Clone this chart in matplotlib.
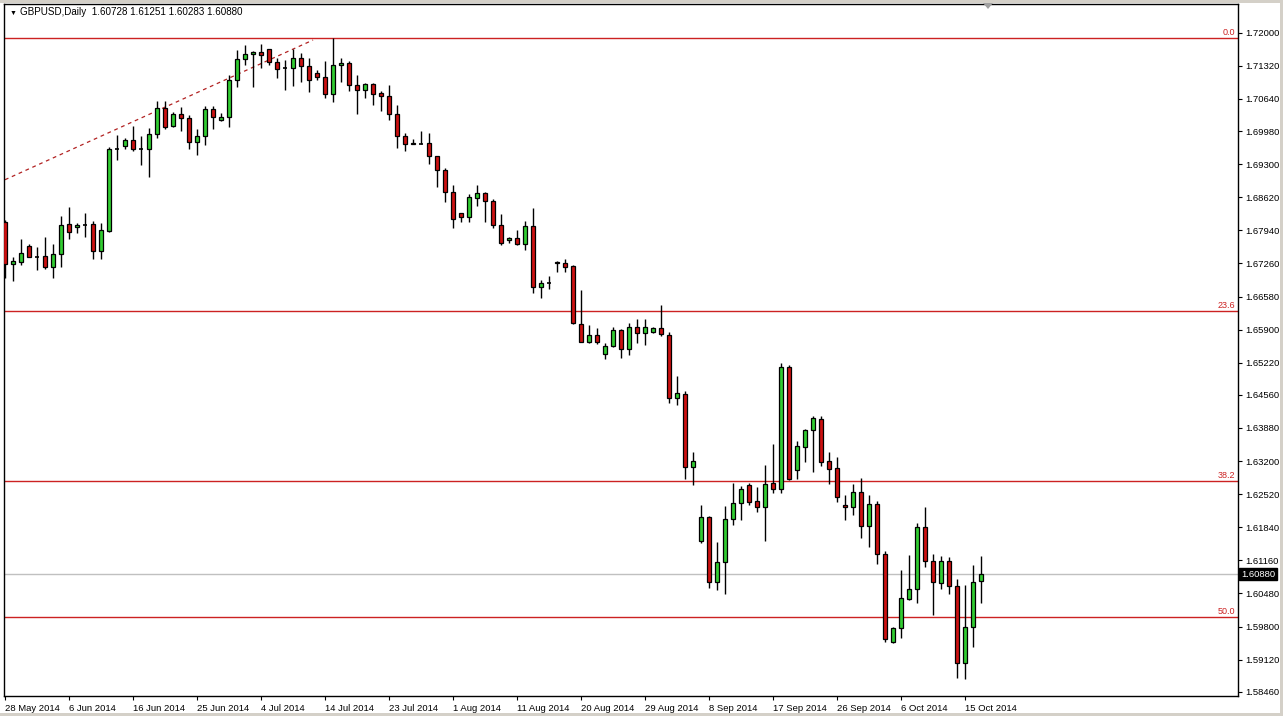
import matplotlib
matplotlib.use("Agg")
import matplotlib.pyplot as plt
from matplotlib.transforms import blended_transform_factory
from matplotlib.patches import Rectangle, Polygon
import numpy as np

symbol = "GBPUSD,Daily"

# daily OHLC, 28 May 2014 .. 17 Oct 2014 (incl. short Sunday bars)
opens = [1.6812, 1.6724, 1.6730, 1.6762, 1.6740, 1.6741, 1.6719, 1.6745, 1.6807, 1.6800,
         1.6806, 1.6807, 1.6752, 1.6793, 1.6961, 1.6968, 1.6980, 1.6961, 1.6961, 1.6991,
         1.7045, 1.7009, 1.7032, 1.7024, 1.6975, 1.6987, 1.7043, 1.7021, 1.7026, 1.7102,
         1.7146, 1.7156, 1.7160, 1.7166, 1.7139, 1.7127, 1.7128, 1.7149, 1.7131, 1.7117,
         1.7110, 1.7075, 1.7133, 1.7138, 1.7092, 1.7083, 1.7095, 1.7076, 1.7071, 1.7032,
         1.6988, 1.6973, 1.6972, 1.6973, 1.6947, 1.6919, 1.6872, 1.6829, 1.6822, 1.6860,
         1.6871, 1.6854, 1.6804, 1.6774, 1.6778, 1.6765, 1.6802, 1.6677, 1.6685, 1.6730,
         1.6726, 1.6721, 1.6601, 1.6565, 1.6579, 1.6541, 1.6557, 1.6589, 1.6550, 1.6596,
         1.6583, 1.6586, 1.6593, 1.6579, 1.6450, 1.6457, 1.6307, 1.6155, 1.6205, 1.6072,
         1.6113, 1.6201, 1.6233, 1.6271, 1.6238, 1.6226, 1.6274, 1.6262, 1.6514, 1.6302,
         1.6348, 1.6384, 1.6406, 1.6320, 1.6305, 1.6230, 1.6225, 1.6256, 1.6187, 1.6231,
         1.6129, 1.5949, 1.5977, 1.6037, 1.6058, 1.6184, 1.6115, 1.6069, 1.6115, 1.6064,
         1.5905, 1.5979, 1.60728]
highs = [1.6815, 1.6739, 1.6776, 1.6766, 1.6760, 1.6781, 1.6766, 1.6824, 1.6841, 1.6810,
         1.6830, 1.6814, 1.6810, 1.6966, 1.6990, 1.6984, 1.7008, 1.6988, 1.7004, 1.7060,
         1.7060, 1.7038, 1.7047, 1.7030, 1.7002, 1.7049, 1.7049, 1.7036, 1.7113, 1.7164,
         1.7174, 1.7163, 1.7177, 1.7167, 1.7149, 1.7143, 1.7167, 1.7158, 1.7148, 1.7123,
         1.7141, 1.7190, 1.7149, 1.7141, 1.7114, 1.7097, 1.7097, 1.7081, 1.7092, 1.7052,
         1.6995, 1.6982, 1.6998, 1.6993, 1.6947, 1.6923, 1.6887, 1.6830, 1.6869, 1.6887,
         1.6872, 1.6858, 1.6827, 1.6781, 1.6795, 1.6813, 1.6839, 1.6693, 1.6700, 1.6731,
         1.6735, 1.6723, 1.6672, 1.6600, 1.6594, 1.6563, 1.6595, 1.6591, 1.6604, 1.6612,
         1.6612, 1.6596, 1.6641, 1.6586, 1.6495, 1.6464, 1.6338, 1.6230, 1.6208, 1.6153,
         1.6228, 1.6276, 1.6269, 1.6276, 1.6267, 1.6311, 1.6355, 1.6521, 1.6517, 1.6361,
         1.6386, 1.6413, 1.6413, 1.6338, 1.6328, 1.6250, 1.6272, 1.6285, 1.6250, 1.6239,
         1.6135, 1.5980, 1.6096, 1.6127, 1.6192, 1.6225, 1.6129, 1.6124, 1.6122, 1.6078,
         1.6066, 1.6107, 1.61251]
lows = [1.6696, 1.6689, 1.6723, 1.6740, 1.6713, 1.6715, 1.6696, 1.6719, 1.6776, 1.6788,
        1.6781, 1.6735, 1.6735, 1.6791, 1.6939, 1.6961, 1.6956, 1.6928, 1.6904, 1.6983,
        1.7002, 1.7006, 1.6998, 1.6961, 1.6949, 1.6969, 1.7003, 1.7018, 1.7006, 1.7088,
        1.7134, 1.7088, 1.7127, 1.7133, 1.7106, 1.7083, 1.7090, 1.7099, 1.7078, 1.7102,
        1.7066, 1.7057, 1.7099, 1.7081, 1.7034, 1.7066, 1.7052, 1.7039, 1.7021, 1.6964,
        1.6958, 1.6971, 1.6971, 1.6930, 1.6884, 1.6853, 1.6798, 1.6811, 1.6811, 1.6843,
        1.6812, 1.6798, 1.6763, 1.6767, 1.6763, 1.6754, 1.6666, 1.6654, 1.6673, 1.6709,
        1.6709, 1.6601, 1.6564, 1.6562, 1.6561, 1.6530, 1.6555, 1.6532, 1.6538, 1.6563,
        1.6559, 1.6583, 1.6576, 1.6440, 1.6435, 1.6283, 1.6271, 1.6152, 1.6060, 1.6055,
        1.6047, 1.6189, 1.6199, 1.6230, 1.6216, 1.6155, 1.6254, 1.6254, 1.6281, 1.6283,
        1.6319, 1.6298, 1.6310, 1.6273, 1.6235, 1.6198, 1.6209, 1.6163, 1.6144, 1.6109,
        1.5949, 1.5947, 1.5956, 1.6035, 1.6029, 1.6102, 1.6004, 1.6057, 1.6047, 1.5874,
        1.5872, 1.5938, 1.60283]
closes = [1.6724, 1.6731, 1.6747, 1.6740, 1.6740, 1.6719, 1.6745, 1.6806, 1.6790, 1.6806,
          1.6806, 1.6752, 1.6795, 1.6961, 1.6961, 1.6980, 1.6961, 1.6961, 1.6991, 1.7045,
          1.7006, 1.7032, 1.7024, 1.6975, 1.6987, 1.7043, 1.7026, 1.7027, 1.7102, 1.7147,
          1.7156, 1.7160, 1.7155, 1.7139, 1.7126, 1.7127, 1.7149, 1.7131, 1.7102, 1.7110,
          1.7075, 1.7133, 1.7138, 1.7092, 1.7082, 1.7095, 1.7075, 1.7071, 1.7032, 1.6987,
          1.6971, 1.6971, 1.6972, 1.6947, 1.6919, 1.6872, 1.6817, 1.6822, 1.6862, 1.6871,
          1.6854, 1.6804, 1.6767, 1.6779, 1.6765, 1.6802, 1.6677, 1.6685, 1.6685, 1.6726,
          1.6719, 1.6603, 1.6565, 1.6579, 1.6565, 1.6557, 1.6589, 1.6550, 1.6595, 1.6583,
          1.6595, 1.6593, 1.6581, 1.6450, 1.6459, 1.6307, 1.6320, 1.6205, 1.6072, 1.6113,
          1.6201, 1.6233, 1.6262, 1.6235, 1.6226, 1.6272, 1.6263, 1.6514, 1.6283, 1.6350,
          1.6384, 1.6408, 1.6319, 1.6303, 1.6246, 1.6225, 1.6256, 1.6187, 1.6231, 1.6129,
          1.5954, 1.5977, 1.6038, 1.6057, 1.6184, 1.6115, 1.6071, 1.6115, 1.6064, 1.5905,
          1.5980, 1.6071, 1.60880]

date_labels = ["28 May 2014", "6 Jun 2014", "16 Jun 2014", "25 Jun 2014", "4 Jul 2014",
               "14 Jul 2014", "23 Jul 2014", "1 Aug 2014", "11 Aug 2014", "20 Aug 2014",
               "29 Aug 2014", "8 Sep 2014", "17 Sep 2014", "26 Sep 2014", "6 Oct 2014",
               "15 Oct 2014"]
date_label_bars = [0, 8, 16, 24, 32, 40, 48, 56, 64, 72, 80, 88, 96, 104, 112, 120]

price_ticks = [1.72000, 1.71320, 1.70640, 1.69980, 1.69300, 1.68620, 1.67940, 1.67260,
               1.66580, 1.65900, 1.65220, 1.64560, 1.63880, 1.63200, 1.62520, 1.61840,
               1.61160, 1.60480, 1.59800, 1.59120, 1.58460]

# fibonacci retracement drawn on the chart
fib_high = 1.7190
fib_low = 1.4808
fib_levels = [0.0, 23.6, 38.2, 50.0]

# dashed trend line (bar index, price)
trend_x = [0, 38.5]
trend_y = [1.6898, 1.7185]

plt.rcParams["font.family"] = ["Liberation Sans", "DejaVu Sans"]

o = np.array(opens); h = np.array(highs); l = np.array(lows); c = np.array(closes)
x = np.arange(len(o))

W, H = 1283, 716
fig = plt.figure(figsize=(W / 100, H / 100), dpi=100, facecolor="white")
ax = fig.add_axes([4 / W, 20 / H, (1238 - 4) / W, (696 - 4) / H])
ax.set_facecolor("white")

fs = 6.8
bull = "#32CD32"
bear = "#CC1111"

# wicks
ax.vlines(x, l, h, color="black", lw=1, zorder=3)
# bodies
up = c > o
dn = c < o
eq = c == o
body_w = 0.56
ax.bar(x[up], (c - o)[up], bottom=o[up], width=body_w, color=bull,
       edgecolor="black", lw=0.9, zorder=4)
ax.bar(x[dn], (o - c)[dn], bottom=c[dn], width=body_w, color=bear,
       edgecolor="black", lw=0.9, zorder=4)
ax.hlines(c[eq], x[eq] - body_w / 2, x[eq] + body_w / 2, color="black", lw=1.2, zorder=4)

# fibo lines
fib_color = "#CC2222"
trans = blended_transform_factory(ax.transAxes, ax.transData)
for lv in fib_levels:
    p = fib_high - lv / 100 * (fib_high - fib_low)
    ax.axhline(p, color=fib_color, lw=1, zorder=2)
    ax.text(0.998, p + 0.0002, f"{lv:.1f}", transform=trans, ha="right", va="bottom",
            fontsize=fs - 0.3, color=fib_color)

# trend line
ax.plot(trend_x, trend_y, color="#B22222", lw=0.9, ls=(0, (3, 3)), zorder=2)

# current price line
ax.axhline(c[-1], color="#C0C0C0", lw=1, zorder=1)
ax.text(1.0025, c[-1], f"{c[-1]:.5f}", transform=trans, ha="left", va="center",
        fontsize=fs, color="white", clip_on=False,
        bbox=dict(boxstyle="square,pad=0.2", fc="black", ec="black"))

ax.set_xlim(-0.125, 154.1)
ax.set_ylim(1.58374, 1.72590)

ax.yaxis.tick_right()
ax.set_yticks(price_ticks)
ax.set_yticklabels([f"{t:.5f}" for t in price_ticks])
ax.set_xticks(date_label_bars)
ax.set_xticklabels(date_labels)
for lbl in ax.get_xticklabels():
    lbl.set_horizontalalignment("left")
ax.tick_params(axis="both", direction="out", length=3, width=0.8, labelsize=fs,
               colors="black", pad=2.5)
for s in ax.spines.values():
    s.set_color("black")
    s.set_linewidth(1)

# header
ax.text(0.0045, 0.9915, "\u25BC", transform=ax.transAxes, fontsize=5, va="top", ha="left")
ax.text(0.0130, 0.995, f"{symbol}  {o[-1]:.5f} {h[-1]:.5f} {l[-1]:.5f} {c[-1]:.5f}",
        transform=ax.transAxes, fontsize=fs + 0.3, va="top", ha="left")

# window frame
grey = "#D4D0C8"
fig.patches.append(Rectangle((0, 1 - 3 / H), 1, 3 / H, transform=fig.transFigure,
                             fc=grey, ec="none"))
fig.patches.append(Rectangle((1 - 3 / W, 0), 3 / W, 1, transform=fig.transFigure,
                             fc=grey, ec="none"))
fig.patches.append(Rectangle((0, 0), 1, 3 / H, transform=fig.transFigure,
                             fc=grey, ec="none"))
fig.patches.append(Polygon([[983 / W, 1 - 3 / H], [993 / W, 1 - 3 / H], [988 / W, 1 - 9 / H]],
                           closed=True, transform=fig.transFigure, fc="#A0A0A0", ec="none"))

fig.savefig("out.png", dpi=100, facecolor="white")
